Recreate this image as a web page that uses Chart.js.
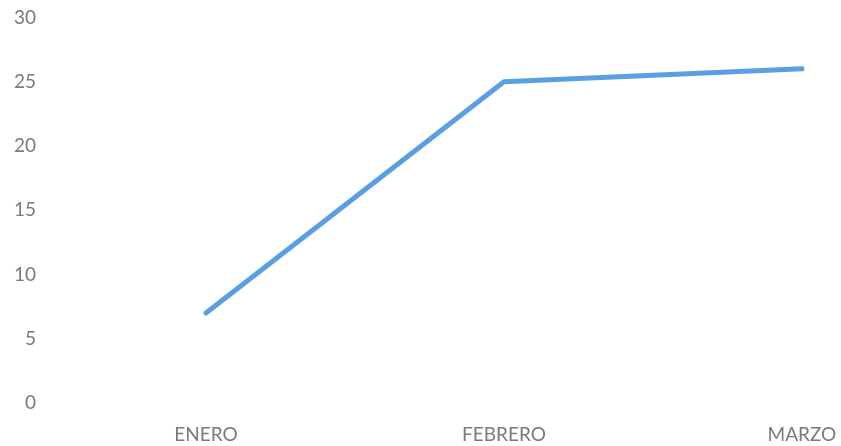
<!DOCTYPE html>
<html>
<head>
<meta charset="utf-8">
<script src="https://cdn.jsdelivr.net/npm/chart.js@4"></script>
<style>
    html, body { margin: 0; padding: 0; background: #fff; }
    #wrap { width: 841px; height: 446px; }
</style>
</head>
<body>
<div id="wrap"><canvas id="lineChart" width="841" height="446"></canvas></div>
<script>
// Data
const months = ['ENERO', 'FEBRERO', 'MARZO'];
const values = [7, 25, 26];
const yTicks = [0, 5, 10, 15, 20, 25, 30];

const ctx = document.getElementById('lineChart').getContext('2d');
new Chart(ctx, {
    type: 'line',
    data: {
        datasets: [{
            label: 'Serie 1',
            data: values.map((v, i) => ({ x: i, y: v })),
            borderColor: '#5a9fe0',
            borderWidth: 5,
            borderCapStyle: 'round',
            borderJoinStyle: 'round',
            pointRadius: 0,
            tension: 0,
            fill: false
        }]
    },
    options: {
        responsive: false,
        animation: false,
        layout: { padding: { top: 4, right: 0, bottom: 0, left: 8 } },
        plugins: {
            legend: { display: false },
            tooltip: { enabled: false }
        },
        scales: {
            x: {
                type: 'linear',
                min: -0.55,
                max: 2.131,
                grid: { display: false, drawTicks: false },
                border: { display: false },
                afterFit: scale => {
                    scale.height = 43;
                    scale.paddingLeft = 0;
                    scale.paddingRight = 0;
                },
                ticks: {
                    stepSize: 1,
                    includeBounds: false,
                    autoSkip: false,
                    maxRotation: 0,
                    padding: 20,
                    color: '#7a7a7a',
                    font: { family: 'Lato', size: 19 },
                    callback: value => Number.isInteger(value) ? (months[value] || '') : ''
                }
            },
            y: {
                min: yTicks[0],
                max: yTicks[yTicks.length - 1],
                grid: { display: false, drawTicks: false },
                border: { display: false },
                ticks: {
                    stepSize: 5,
                    padding: 6,
                    color: '#7a7a7a',
                    font: { family: 'Lato', size: 19 }
                }
            }
        }
    }
});
</script>
</body>
</html>
